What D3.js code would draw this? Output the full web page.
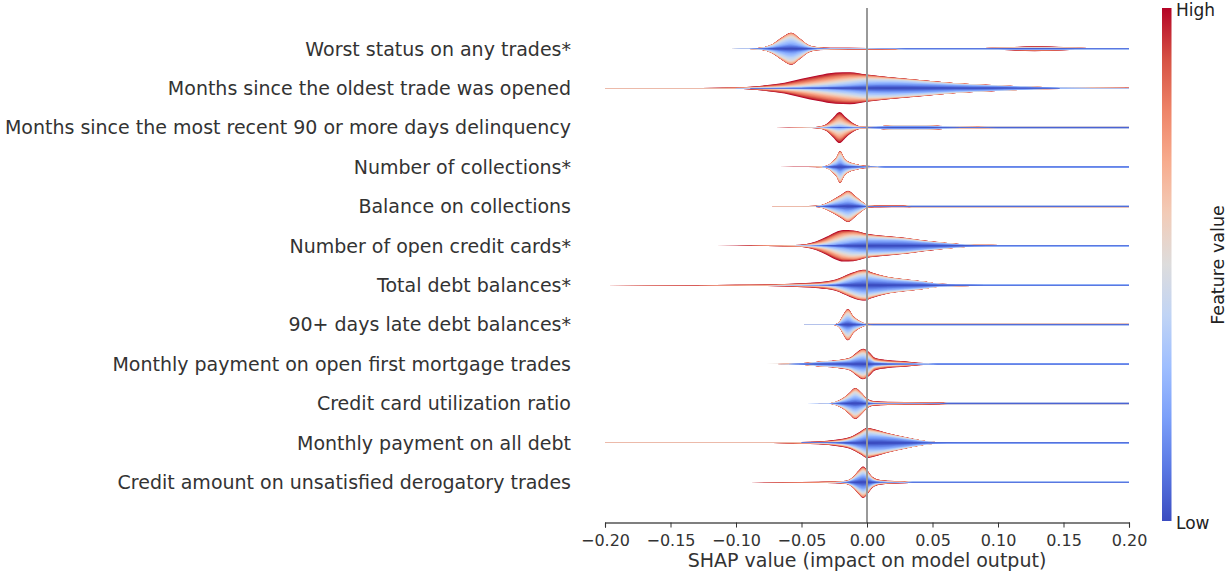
<!DOCTYPE html>
<html>
<head>
<meta charset="utf-8">
<script src="https://cdn.jsdelivr.net/npm/d3@7"></script>
<style>
  body { margin: 0; background: #fff; }
  svg { font-family: "DejaVu Sans", sans-serif; }
</style>
</head>
<body>
<svg id="chart" width="1228" height="571"></svg>
<script>
// feature names, top to bottom
var featureNames = [
  "Worst status on any trades*",
  "Months since the oldest trade was opened",
  "Months since the most recent 90 or more days delinquency",
  "Number of collections*",
  "Balance on collections",
  "Number of open credit cards*",
  "Total debt balances*",
  "90+ days late debt balances*",
  "Monthly payment on open first mortgage trades",
  "Credit card utilization ratio",
  "Monthly payment on all debt",
  "Credit amount on unsatisfied derogatory trades"
];

var xTicks = [-0.2, -0.15, -0.1, -0.05, 0, 0.05, 0.1, 0.15, 0.2];

// each sample: [shap value, density (half width), share low, mid-low, mid-high, high feature value]
var worstStatus = [
  [-0.104, 0.002, 0.0, 0.4, 0.4, 0.2],
  [-0.090, 0.015, 0.4, 0.3, 0.2, 0.1],
  [-0.080, 0.08, 0.35, 0.35, 0.2, 0.1],
  [-0.072, 0.30, 0.3, 0.45, 0.2, 0.05],
  [-0.065, 0.70, 0.3, 0.45, 0.2, 0.05],
  [-0.058, 1.00, 0.3, 0.45, 0.2, 0.05],
  [-0.051, 0.62, 0.3, 0.45, 0.2, 0.05],
  [-0.045, 0.25, 0.3, 0.4, 0.2, 0.1],
  [-0.038, 0.10, 0.2, 0.3, 0.3, 0.2],
  [-0.028, 0.06, 0.1, 0.2, 0.3, 0.4],
  [0.000, 0.05, 0.1, 0.1, 0.3, 0.5],
  [0.022, 0.05, 0.2, 0.1, 0.3, 0.4],
  [0.030, 0.05, 0.6, 0.4, 0.0, 0.0],
  [0.090, 0.05, 0.6, 0.4, 0.0, 0.0],
  [0.110, 0.10, 0.4, 0.1, 0.2, 0.3],
  [0.128, 0.16, 0.3, 0.05, 0.2, 0.45],
  [0.150, 0.10, 0.4, 0.1, 0.2, 0.3],
  [0.168, 0.05, 0.6, 0.4, 0.0, 0.0],
  [0.205, 0.05, 0.6, 0.4, 0.0, 0.0]
];
var monthsOldest = [
  [-0.205, 0.003, 0.0, 0.0, 0.4, 0.6],
  [-0.126, 0.01, 0.0, 0.0, 0.4, 0.6],
  [-0.100, 0.04, 0.0, 0.05, 0.35, 0.6],
  [-0.089, 0.09, 0.02, 0.12, 0.3, 0.56],
  [-0.076, 0.19, 0.02, 0.13, 0.32, 0.53],
  [-0.063, 0.33, 0.03, 0.15, 0.32, 0.5],
  [-0.050, 0.58, 0.04, 0.17, 0.32, 0.47],
  [-0.037, 0.81, 0.06, 0.2, 0.32, 0.42],
  [-0.024, 0.98, 0.1, 0.25, 0.3, 0.35],
  [-0.013, 1.00, 0.16, 0.3, 0.28, 0.26],
  [0.000, 0.85, 0.3, 0.38, 0.2, 0.12],
  [0.016, 0.70, 0.42, 0.38, 0.12, 0.08],
  [0.042, 0.50, 0.5, 0.36, 0.09, 0.05],
  [0.068, 0.31, 0.6, 0.3, 0.06, 0.04],
  [0.095, 0.19, 0.7, 0.24, 0.04, 0.02],
  [0.121, 0.10, 0.75, 0.2, 0.03, 0.02],
  [0.147, 0.05, 0.3, 0.3, 0.2, 0.2],
  [0.205, 0.02, 0.0, 0.3, 0.4, 0.3]
];
var recentDelinq = [
  [-0.093, 0.002, 0.0, 0.3, 0.4, 0.3],
  [-0.060, 0.006, 0.0, 0.3, 0.4, 0.3],
  [-0.042, 0.025, 0.05, 0.2, 0.35, 0.4],
  [-0.036, 0.07, 0.04, 0.2, 0.38, 0.38],
  [-0.031, 0.22, 0.04, 0.2, 0.4, 0.36],
  [-0.026, 0.60, 0.04, 0.2, 0.4, 0.36],
  [-0.021, 0.97, 0.04, 0.2, 0.4, 0.36],
  [-0.016, 0.62, 0.04, 0.2, 0.4, 0.36],
  [-0.0105, 0.27, 0.05, 0.2, 0.4, 0.35],
  [-0.005, 0.08, 0.15, 0.2, 0.35, 0.3],
  [0.002, 0.05, 0.6, 0.3, 0.05, 0.05],
  [0.012, 0.10, 0.55, 0.3, 0.1, 0.05],
  [0.020, 0.14, 0.5, 0.3, 0.15, 0.05],
  [0.045, 0.14, 0.5, 0.3, 0.15, 0.05],
  [0.058, 0.09, 0.45, 0.25, 0.2, 0.1],
  [0.085, 0.06, 0.45, 0.15, 0.2, 0.2],
  [0.100, 0.05, 0.7, 0.3, 0.0, 0.0],
  [0.205, 0.05, 0.7, 0.3, 0.0, 0.0]
];
var numCollections = [
  [-0.067, 0.002, 0.0, 0.0, 0.5, 0.5],
  [-0.045, 0.006, 0.0, 0.0, 0.5, 0.5],
  [-0.034, 0.035, 0.2, 0.3, 0.3, 0.2],
  [-0.030, 0.10, 0.3, 0.4, 0.25, 0.05],
  [-0.026, 0.37, 0.3, 0.42, 0.23, 0.05],
  [-0.0235, 0.58, 0.3, 0.42, 0.23, 0.05],
  [-0.0205, 1.00, 0.3, 0.42, 0.23, 0.05],
  [-0.0175, 0.58, 0.3, 0.42, 0.23, 0.05],
  [-0.015, 0.37, 0.3, 0.42, 0.23, 0.05],
  [-0.008, 0.17, 0.3, 0.4, 0.22, 0.08],
  [-0.002, 0.08, 0.2, 0.2, 0.3, 0.3],
  [0.008, 0.06, 0.1, 0.1, 0.3, 0.5],
  [0.014, 0.05, 0.6, 0.4, 0.0, 0.0],
  [0.205, 0.05, 0.6, 0.4, 0.0, 0.0]
];
var balanceCollections = [
  [-0.072, 0.002, 0.0, 0.0, 0.5, 0.5],
  [-0.050, 0.006, 0.0, 0.0, 0.5, 0.5],
  [-0.039, 0.035, 0.2, 0.3, 0.3, 0.2],
  [-0.034, 0.10, 0.3, 0.4, 0.22, 0.08],
  [-0.026, 0.42, 0.3, 0.4, 0.22, 0.08],
  [-0.0197, 0.73, 0.3, 0.4, 0.22, 0.08],
  [-0.0145, 0.98, 0.3, 0.4, 0.22, 0.08],
  [-0.0092, 0.67, 0.3, 0.4, 0.22, 0.08],
  [-0.004, 0.31, 0.3, 0.4, 0.22, 0.08],
  [0.0013, 0.07, 0.2, 0.2, 0.3, 0.3],
  [0.010, 0.06, 0.1, 0.1, 0.3, 0.5],
  [0.028, 0.05, 0.1, 0.1, 0.3, 0.5],
  [0.034, 0.05, 0.6, 0.4, 0.0, 0.0],
  [0.205, 0.05, 0.6, 0.4, 0.0, 0.0]
];
var openCards = [
  [-0.130, 0.002, 0.0, 0.0, 0.4, 0.6],
  [-0.100, 0.006, 0.0, 0.0, 0.4, 0.6],
  [-0.076, 0.02, 0.0, 0.0, 0.4, 0.6],
  [-0.055, 0.05, 0.02, 0.13, 0.35, 0.5],
  [-0.047, 0.10, 0.03, 0.15, 0.35, 0.47],
  [-0.039, 0.27, 0.04, 0.18, 0.35, 0.43],
  [-0.031, 0.56, 0.06, 0.22, 0.34, 0.38],
  [-0.024, 0.85, 0.1, 0.28, 0.32, 0.3],
  [-0.018, 0.98, 0.15, 0.33, 0.3, 0.22],
  [-0.0105, 0.96, 0.25, 0.35, 0.25, 0.15],
  [0.000, 0.75, 0.42, 0.33, 0.15, 0.1],
  [0.016, 0.60, 0.52, 0.3, 0.1, 0.08],
  [0.029, 0.50, 0.58, 0.27, 0.08, 0.07],
  [0.042, 0.35, 0.6, 0.25, 0.08, 0.07],
  [0.055, 0.23, 0.62, 0.24, 0.07, 0.07],
  [0.068, 0.125, 0.65, 0.22, 0.07, 0.06],
  [0.082, 0.06, 0.65, 0.3, 0.03, 0.02],
  [0.100, 0.05, 0.6, 0.4, 0.0, 0.0],
  [0.205, 0.05, 0.6, 0.4, 0.0, 0.0]
];
var totalDebt = [
  [-0.205, 0.003, 0.0, 0.0, 0.3, 0.7],
  [-0.130, 0.012, 0.0, 0.0, 0.3, 0.7],
  [-0.100, 0.03, 0.0, 0.0, 0.3, 0.7],
  [-0.076, 0.05, 0.0, 0.05, 0.25, 0.7],
  [-0.063, 0.08, 0.02, 0.08, 0.3, 0.6],
  [-0.050, 0.13, 0.03, 0.12, 0.3, 0.55],
  [-0.037, 0.19, 0.05, 0.15, 0.3, 0.5],
  [-0.024, 0.35, 0.15, 0.3, 0.3, 0.25],
  [-0.013, 0.73, 0.3, 0.35, 0.2, 0.15],
  [-0.005, 0.94, 0.38, 0.35, 0.17, 0.1],
  [-0.0013, 0.96, 0.4, 0.35, 0.15, 0.1],
  [0.0027, 0.83, 0.45, 0.33, 0.13, 0.09],
  [0.016, 0.52, 0.55, 0.3, 0.1, 0.05],
  [0.029, 0.37, 0.58, 0.3, 0.07, 0.05],
  [0.042, 0.25, 0.6, 0.3, 0.05, 0.05],
  [0.055, 0.10, 0.65, 0.25, 0.05, 0.05],
  [0.068, 0.06, 0.7, 0.25, 0.03, 0.02],
  [0.090, 0.05, 0.6, 0.4, 0.0, 0.0],
  [0.205, 0.05, 0.6, 0.4, 0.0, 0.0]
];
var lateBalances = [
  [-0.048, 0.002, 0.0, 0.3, 0.4, 0.3],
  [-0.030, 0.006, 0.0, 0.3, 0.4, 0.3],
  [-0.024, 0.035, 0.3, 0.4, 0.22, 0.08],
  [-0.021, 0.20, 0.3, 0.4, 0.22, 0.08],
  [-0.0184, 0.58, 0.3, 0.4, 0.22, 0.08],
  [-0.0145, 0.98, 0.3, 0.4, 0.22, 0.08],
  [-0.0105, 0.54, 0.3, 0.4, 0.22, 0.08],
  [-0.005, 0.20, 0.3, 0.4, 0.22, 0.08],
  [0.000, 0.06, 0.3, 0.3, 0.2, 0.2],
  [0.005, 0.05, 0.6, 0.4, 0.0, 0.0],
  [0.205, 0.05, 0.6, 0.4, 0.0, 0.0]
];
var mortgagePayment = [
  [-0.077, 0.002, 0.0, 0.4, 0.4, 0.2],
  [-0.060, 0.02, 0.1, 0.4, 0.3, 0.2],
  [-0.045, 0.08, 0.5, 0.3, 0.1, 0.1],
  [-0.037, 0.15, 0.5, 0.3, 0.1, 0.1],
  [-0.024, 0.23, 0.5, 0.3, 0.1, 0.1],
  [-0.013, 0.40, 0.45, 0.32, 0.13, 0.1],
  [-0.008, 0.71, 0.4, 0.33, 0.17, 0.1],
  [-0.003, 0.95, 0.35, 0.35, 0.2, 0.1],
  [0.0013, 0.77, 0.3, 0.3, 0.22, 0.18],
  [0.006, 0.40, 0.22, 0.2, 0.25, 0.33],
  [0.016, 0.25, 0.2, 0.15, 0.25, 0.4],
  [0.029, 0.17, 0.15, 0.12, 0.28, 0.45],
  [0.039, 0.08, 0.15, 0.1, 0.3, 0.45],
  [0.047, 0.05, 0.2, 0.1, 0.3, 0.4],
  [0.054, 0.05, 0.6, 0.4, 0.0, 0.0],
  [0.205, 0.05, 0.6, 0.4, 0.0, 0.0]
];
var cardUtil = [
  [-0.046, 0.002, 0.0, 0.4, 0.4, 0.2],
  [-0.029, 0.02, 0.3, 0.35, 0.25, 0.1],
  [-0.024, 0.10, 0.3, 0.38, 0.24, 0.08],
  [-0.018, 0.35, 0.33, 0.38, 0.22, 0.07],
  [-0.013, 0.70, 0.33, 0.38, 0.22, 0.07],
  [-0.009, 0.97, 0.33, 0.38, 0.22, 0.07],
  [-0.005, 0.73, 0.33, 0.38, 0.22, 0.07],
  [0.000, 0.31, 0.3, 0.3, 0.25, 0.15],
  [0.005, 0.15, 0.15, 0.15, 0.3, 0.4],
  [0.016, 0.10, 0.1, 0.1, 0.3, 0.5],
  [0.042, 0.08, 0.1, 0.1, 0.3, 0.5],
  [0.055, 0.06, 0.2, 0.1, 0.3, 0.4],
  [0.062, 0.05, 0.7, 0.3, 0.0, 0.0],
  [0.205, 0.05, 0.7, 0.3, 0.0, 0.0]
];
var allDebt = [
  [-0.205, 0.002, 0.0, 0.0, 0.3, 0.7],
  [-0.100, 0.006, 0.0, 0.0, 0.3, 0.7],
  [-0.063, 0.03, 0.0, 0.0, 0.3, 0.7],
  [-0.050, 0.06, 0.02, 0.08, 0.3, 0.6],
  [-0.037, 0.09, 0.05, 0.12, 0.3, 0.53],
  [-0.024, 0.19, 0.1, 0.2, 0.3, 0.4],
  [-0.013, 0.36, 0.3, 0.3, 0.2, 0.2],
  [-0.005, 0.71, 0.38, 0.33, 0.17, 0.12],
  [0.000, 0.94, 0.4, 0.35, 0.15, 0.1],
  [0.005, 0.86, 0.45, 0.33, 0.13, 0.09],
  [0.016, 0.60, 0.55, 0.3, 0.1, 0.05],
  [0.029, 0.36, 0.58, 0.3, 0.07, 0.05],
  [0.042, 0.15, 0.6, 0.3, 0.05, 0.05],
  [0.0525, 0.06, 0.65, 0.3, 0.03, 0.02],
  [0.070, 0.05, 0.6, 0.4, 0.0, 0.0],
  [0.205, 0.05, 0.6, 0.4, 0.0, 0.0]
];
var derogatory = [
  [-0.205, 0.002, 0.0, 0.0, 0.3, 0.7],
  [-0.100, 0.004, 0.0, 0.0, 0.3, 0.7],
  [-0.050, 0.02, 0.0, 0.0, 0.3, 0.7],
  [-0.024, 0.06, 0.05, 0.1, 0.3, 0.55],
  [-0.016, 0.10, 0.2, 0.25, 0.3, 0.25],
  [-0.0105, 0.35, 0.4, 0.3, 0.2, 0.1],
  [-0.006, 0.77, 0.4, 0.3, 0.2, 0.1],
  [-0.003, 0.98, 0.4, 0.3, 0.2, 0.1],
  [0.000, 0.77, 0.4, 0.3, 0.2, 0.1],
  [0.004, 0.35, 0.35, 0.3, 0.2, 0.15],
  [0.010, 0.15, 0.2, 0.2, 0.3, 0.3],
  [0.021, 0.08, 0.1, 0.1, 0.3, 0.5],
  [0.029, 0.06, 0.1, 0.1, 0.3, 0.5],
  [0.035, 0.05, 0.6, 0.4, 0.0, 0.0],
  [0.205, 0.05, 0.6, 0.4, 0.0, 0.0]
];

var violins = [worstStatus, monthsOldest, recentDelinq, numCollections, balanceCollections,
  openCards, totalDebt, lateBalances, mortgagePayment, cardUtil, allDebt, derogatory];

// matplotlib coolwarm
var coolwarm = d3.piecewise(d3.interpolateRgb, ["#3b4cc0", "#5977e3", "#7b9ff9", "#9ebeff", "#c0d4f5",
  "#dddcdc", "#f2cbb7", "#f7ac8e", "#ee8468", "#d65244", "#b40426"]);

var svg = d3.select("#chart");
var plotLeft = 605, plotRight = 1129, plotTop = 8, plotBottom = 522.5;

var x = d3.scaleLinear().domain([-0.2, 0.2]).range([plotLeft, plotRight]);
var y = d3.scaleBand().domain(featureNames).range([29, 502]);
var halfW = d3.scaleLinear().domain([0, 1]).range([0, 16]);

svg.append("defs").append("clipPath").attr("id", "plotclip")
  .append("rect").attr("x", plotLeft).attr("y", 0)
  .attr("width", plotRight - plotLeft).attr("height", plotBottom);

// layered violins -------------------------------------------------------
var nBins = 4, subSteps = 6, nLayers = nBins * subSteps;
var layerG = svg.append("g").attr("clip-path", "url(#plotclip)");

violins.forEach(function(samples, i) {
  var yc = y(featureNames[i]) + y.bandwidth() / 2;
  // cumulative half widths per layer at every sample
  var pts = samples.map(function(s) {
    var shares = s.slice(2);
    var tot = d3.sum(shares) || 1;
    var cum = [], acc = 0;
    for (var b = 0; b < nBins; b++) {
      var sh = shares[b] / tot;
      for (var k = 0; k < subSteps; k++) {
        cum.push(s[1] * (acc + sh * (k + 1) / subSteps));
      }
      acc += sh;
    }
    return {x: s[0], cum: cum};
  });
  var g = layerG.append("g");
  for (var L = nLayers - 1; L >= 0; L--) {
    var area = d3.area()
      .curve(d3.curveMonotoneX)
      .defined(function(d) { return d.cum[L] > 1e-9; })
      .x(function(d) { return x(d.x); })
      .y0(function(d) { return yc - halfW(d.cum[L]); })
      .y1(function(d) { return yc + halfW(d.cum[L]); });
    var dPath = area(pts);
    if (!dPath) continue;
    g.append("path")
      .attr("d", dPath)
      .attr("fill", coolwarm(L / (nLayers - 1)))
      .attr("stroke", "none");
  }
});

// zero line
svg.append("line")
  .attr("x1", x(0)).attr("x2", x(0))
  .attr("y1", plotTop).attr("y2", plotBottom)
  .attr("stroke", "#999999").attr("stroke-width", 2);

// feature labels
svg.append("g").selectAll("text")
  .data(featureNames)
  .enter().append("text")
  .attr("x", 571)
  .attr("y", function(d) { return y(d) + y.bandwidth() / 2; })
  .attr("dy", "0.36em")
  .attr("text-anchor", "end")
  .style("font-size", "19px")
  .style("fill", "#333333")
  .text(function(d) { return d; });

// x axis
var axis = svg.append("g")
  .attr("transform", "translate(0," + plotBottom + ")")
  .call(d3.axisBottom(x).tickValues(xTicks).tickSize(5).tickPadding(7)
    .tickFormat(d3.format(".2f")));
axis.select(".domain").attr("stroke", "#000").attr("stroke-width", 1.1);
axis.selectAll(".tick line").attr("stroke", "#333333");
axis.selectAll("text")
  .style("font-family", "DejaVu Sans")
  .style("font-size", "16px")
  .style("fill", "#333333");

svg.append("text")
  .attr("x", x(0)).attr("y", 567)
  .attr("text-anchor", "middle")
  .style("font-size", "19px")
  .style("fill", "#333333")
  .text("SHAP value (impact on model output)");

// colorbar
var cbX = 1162, cbW = 9.5, cbTop = 8, cbBottom = 521;
var grad = svg.select("defs").append("linearGradient")
  .attr("id", "cbgrad").attr("x1", 0).attr("y1", 1).attr("x2", 0).attr("y2", 0);
d3.range(0, 1.0001, 0.05).forEach(function(t) {
  grad.append("stop").attr("offset", t).attr("stop-color", coolwarm(t));
});
svg.append("rect")
  .attr("x", cbX).attr("y", cbTop)
  .attr("width", cbW).attr("height", cbBottom - cbTop)
  .attr("fill", "url(#cbgrad)");

svg.append("text").attr("x", 1176).attr("y", 16)
  .style("font-size", "17px").style("fill", "#222").text("High");
svg.append("text").attr("x", 1176).attr("y", 529)
  .style("font-size", "17px").style("fill", "#222").text("Low");
svg.append("text")
  .attr("transform", "translate(1224,265) rotate(-90)")
  .attr("text-anchor", "middle")
  .style("font-size", "17.5px").style("fill", "#222")
  .text("Feature value");
</script>
</body>
</html>
